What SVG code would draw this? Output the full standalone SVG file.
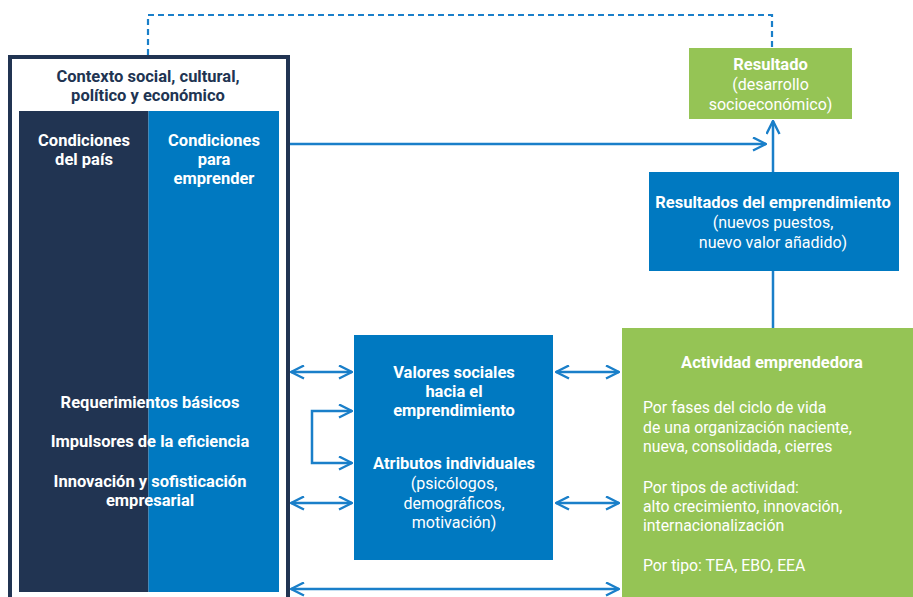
<svg xmlns="http://www.w3.org/2000/svg" width="913" height="597" viewBox="0 0 913 597">
<style>
.b{font-family:Roboto,"Liberation Sans",sans-serif;font-weight:700;font-size:16.5px;fill:#fff;text-anchor:middle}
.r{font-family:Roboto,"Liberation Sans",sans-serif;font-weight:400;font-size:16px;fill:#fff;text-anchor:middle}
.l{font-family:Roboto,"Liberation Sans",sans-serif;font-weight:400;font-size:15.8px;fill:#fff}
.n{fill:#213452;font-family:Roboto,"Liberation Sans",sans-serif;font-weight:700;font-size:16.5px;text-anchor:middle}
.c{stroke:#1a7fc9;stroke-width:2.5;fill:none}
</style>
<defs>
<marker id="ah" viewBox="0 0 15 15" refX="14" refY="7.5" markerWidth="15" markerHeight="15" markerUnits="userSpaceOnUse" orient="auto-start-reverse">
<path d="M1,1 L14,7.5 L1,14" fill="none" stroke="#1a7fc9" stroke-width="2.4"/>
</marker>
</defs>
<rect width="913" height="597" fill="#fff"/>

<g id="contexto">
<rect x="10" y="57" width="278" height="560" fill="#fff" stroke="#213452" stroke-width="4"/>
<text x="148" y="82" class="n">Contexto social, cultural,</text>
<text x="148" y="101" class="n">político y económico</text>
</g>
<g id="condiciones-pais">
<rect x="19" y="111" width="129.5" height="481" fill="#213452"/>
<text x="84" y="146" class="b">Condiciones</text>
<text x="84" y="165" class="b">del país</text>
</g>
<g id="condiciones-emprender">
<rect x="148.5" y="111" width="130.5" height="481" fill="#0079c1"/>
<text x="214" y="146" class="b">Condiciones</text>
<text x="214" y="165" class="b">para</text>
<text x="214" y="184" class="b">emprender</text>
</g>
<g id="pilares">
<text x="150" y="408" class="b">Requerimientos básicos</text>
<text x="150" y="447" class="b">Impulsores de la eficiencia</text>
<text x="150" y="487" class="b">Innovación y sofisticación</text>
<text x="150" y="506" class="b">empresarial</text>
</g>

<g id="resultado">
<rect x="689" y="48" width="163" height="71" fill="#95c455"/>
<text x="770.5" y="70" class="b">Resultado</text>
<text x="770.5" y="90" class="r">(desarrollo</text>
<text x="770.5" y="110" class="r">socioeconómico)</text>
</g>

<g id="resultados-emprendimiento">
<rect x="649" y="172" width="250" height="99" fill="#0079c1"/>
<text x="773" y="208" class="b">Resultados del emprendimiento</text>
<text x="773" y="228" class="r">(nuevos puestos,</text>
<text x="773" y="248" class="r">nuevo valor añadido)</text>
</g>

<g id="valores">
<rect x="354" y="335" width="199" height="225" fill="#0079c1"/>
<text x="454" y="378" class="b">Valores sociales</text>
<text x="454" y="397" class="b">hacia el</text>
<text x="454" y="416" class="b">emprendimiento</text>
<text x="454" y="469" class="b">Atributos individuales</text>
<text x="454" y="489" class="r">(psicólogos,</text>
<text x="454" y="509" class="r">demográficos,</text>
<text x="454" y="528" class="r">motivación)</text>
</g>

<g id="actividad">
<rect x="622" y="328" width="291" height="269" fill="#95c455"/>
<text x="772" y="368" class="b">Actividad emprendedora</text>
<text x="643" y="413" class="l">Por fases del ciclo de vida</text>
<text x="643" y="433" class="l">de una organización naciente,</text>
<text x="643" y="452" class="l">nueva, consolidada, cierres</text>
<text x="643" y="493" class="l">Por tipos de actividad:</text>
<text x="643" y="512" class="l">alto crecimiento, innovación,</text>
<text x="643" y="531" class="l">internacionalización</text>
<text x="643" y="571" class="l">Por tipo: TEA, EBO, EEA</text>
</g>

<g id="connectors">
<path d="M148,55 V15 H772 V48" fill="none" stroke="#1a7fc9" stroke-width="2.2" stroke-dasharray="6,4"/>
<line x1="290" y1="144" x2="766" y2="144" class="c" marker-end="url(#ah)"/>
<line x1="773" y1="172" x2="773" y2="121" class="c" marker-end="url(#ah)"/>
<line x1="773" y1="271" x2="773" y2="328" class="c"/>
<line x1="291" y1="372" x2="352" y2="372" class="c" marker-start="url(#ah)" marker-end="url(#ah)"/>
<line x1="291" y1="503" x2="352" y2="503" class="c" marker-start="url(#ah)" marker-end="url(#ah)"/>
<line x1="556" y1="372" x2="619" y2="372" class="c" marker-start="url(#ah)" marker-end="url(#ah)"/>
<line x1="556" y1="503" x2="619" y2="503" class="c" marker-start="url(#ah)" marker-end="url(#ah)"/>
<line x1="291" y1="589" x2="619" y2="589" class="c" marker-start="url(#ah)" marker-end="url(#ah)"/>
<path d="M352,411 H312 V463 H352" class="c" marker-start="url(#ah)" marker-end="url(#ah)"/>
</g>
</svg>
